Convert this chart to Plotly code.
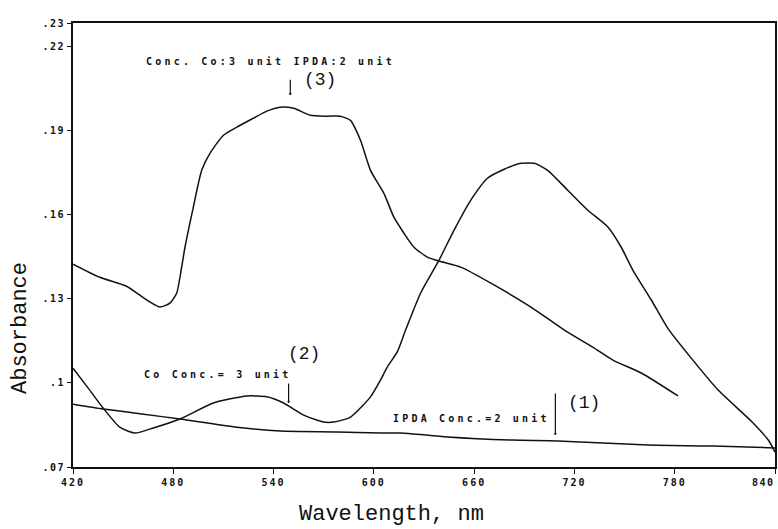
import plotly.graph_objects as go

# Absorption spectra: (1) IPDA alone, (2) Co alone, (3) Co + IPDA mixture
ipda_nm = [420, 438, 460, 484, 518, 544, 578, 604, 616, 644, 683, 710, 764, 803, 840]
ipda_abs = [0.0924, 0.0907, 0.0890, 0.0871, 0.0842, 0.0828, 0.0825, 0.0821, 0.0821,
            0.0807, 0.0796, 0.0793, 0.0778, 0.0775, 0.0768]

co_nm = [420, 430, 438, 448, 457, 468, 484, 504, 524, 536, 546, 558, 570, 576, 586,
         598, 604, 608, 614, 619, 628, 639, 648, 658, 668, 678, 688, 696, 704, 716,
         728, 740, 748, 755, 766, 776, 790, 806, 826, 836, 840]
co_abs = [0.1052, 0.0974, 0.0910, 0.0842, 0.0821, 0.0839, 0.0871, 0.0928, 0.0953, 0.0950,
          0.0928, 0.0885, 0.0860, 0.0860, 0.0878, 0.0950, 0.1010, 0.1056, 0.1110, 0.1188,
          0.1320, 0.1437, 0.1544, 0.1651, 0.1729, 0.1761, 0.1782, 0.1782, 0.1757, 0.1686,
          0.1615, 0.1555, 0.1483, 0.1401, 0.1295, 0.1193, 0.1087, 0.0974, 0.0862, 0.0796,
          0.0753]

mix_nm = [420, 436, 452, 460, 466, 472, 478, 482, 485, 487, 492, 497, 502, 510, 518,
          528, 536, 544, 552, 562, 572, 580, 586, 592, 598, 606, 612, 618, 624, 632,
          640, 652, 670, 694, 714, 731, 743, 760, 782]
mix_abs = [0.1423, 0.1376, 0.1344, 0.1312, 0.1288, 0.1270, 0.1284, 0.1319, 0.1412, 0.1483,
           0.1626, 0.1757, 0.1818, 0.1882, 0.1911, 0.1943, 0.1968, 0.1982, 0.1978, 0.1953,
           0.1950, 0.1950, 0.1935, 0.1864, 0.1757, 0.1675, 0.1590, 0.1533, 0.1483, 0.1448,
           0.1432, 0.1412, 0.1355, 0.1270, 0.1188, 0.1127, 0.1081, 0.1035, 0.0953]

x_ticks = [420, 480, 540, 600, 660, 720, 780, 840]
x_ticktext = ["420", "480", "540", "600", "660", "720", "780", "840"]
y_top = 0.2282
y_ticks = [0.07, 0.10, 0.13, 0.16, 0.19, 0.22, y_top]
y_ticktext = [".07", ".1", ".13", ".16", ".19", ".22", ".23"]

INK = "#111111"
SMALL = "DejaVu Sans Mono"
MONO = "Liberation Mono"


def spaced(s, px):
    return f'<span style="letter-spacing:{px}px">{s}</span>'


fig = go.Figure()
for xs, ys in [(ipda_nm, ipda_abs), (co_nm, co_abs), (mix_nm, mix_abs)]:
    fig.add_trace(go.Scatter(x=xs, y=ys, mode="lines",
                             line=dict(color=INK, width=1.5, shape="spline", smoothing=0.6),
                             showlegend=False, hoverinfo="skip"))

label_font = dict(family=SMALL, size=10, color=INK, weight="bold")
num_font = dict(family=MONO, size=18, color=INK)

annotations = [
    dict(x=538, y=0.2145, text=spaced("Conc. Co:3 unit IPDA:2 unit", 3.2), font=label_font),
    dict(x=568, y=0.2078, text="(3)", font=num_font),
    dict(x=507, y=0.1028, text=spaced("Co Conc.= 3 unit", 3.2), font=label_font),
    dict(x=558, y=0.1102, text="(2)", font=num_font),
    dict(x=658.6, y=0.0874, text=spaced("IPDA Conc.=2 unit", 3.2), font=label_font),
    dict(x=726, y=0.0928, text="(1)", font=num_font),
]
for a in annotations:
    a.update(xref="x", yref="y", showarrow=False, xanchor="center", yanchor="middle")

# Pointer marks from each caption down to its curve
pointers = [(550, 0.2025, 17), (549, 0.0928, 21), (708.6, 0.0814, 43)]
for px, py, length in pointers:
    annotations.append(dict(x=px, y=py, xref="x", yref="y", text="", showarrow=True,
                            ax=0, ay=-length, arrowhead=1, arrowsize=0.5, arrowwidth=1.2,
                            arrowcolor=INK))

# The last wavelength label sits against the right edge, so it is right-aligned there
annotations.append(dict(x=1.0, y=-0.034, xref="paper", yref="paper", text=spaced(x_ticktext[-1], 1.5),
                        showarrow=False, xanchor="right", yanchor="middle", xshift=2,
                        font=dict(family=SMALL, size=10, color=INK, weight="bold")))

annotations += [
    dict(x=0.454, y=-0.108, xref="paper", yref="paper", text="Wavelength, nm", showarrow=False,
         font=dict(family=MONO, size=22, color=INK), xanchor="center", yanchor="middle"),
    dict(x=-0.0755, y=0.313, xref="paper", yref="paper", text="Absorbance", showarrow=False,
         textangle=-90, font=dict(family=MONO, size=22, color=INK), xanchor="center", yanchor="middle"),
]

tick_labels = [spaced(t, 2) for t in x_ticktext[:-1]] + [""]

fig.update_layout(
    width=778, height=529,
    margin=dict(l=73, r=3, t=23, b=62, autoexpand=False),
    paper_bgcolor="white", plot_bgcolor="white",
    annotations=annotations,
    xaxis=dict(range=[420, 840], tickvals=x_ticks, ticktext=tick_labels,
               ticks="outside", ticklen=5, tickwidth=1.2, tickcolor=INK,
               automargin=False,
               showline=True, linewidth=2, linecolor=INK, mirror=True,
               showgrid=False, zeroline=False,
               tickfont=dict(family=SMALL, size=10, color=INK, weight="bold")),
    yaxis=dict(range=[0.07, y_top], tickvals=y_ticks, ticktext=[spaced(t, 1.5) for t in y_ticktext],
               ticks="outside", ticklen=4, tickwidth=1.2, tickcolor=INK, automargin=False,
               showline=True, linewidth=2, linecolor=INK, mirror=True,
               showgrid=False, zeroline=False,
               tickfont=dict(family=SMALL, size=10, color=INK, weight="bold")),
)

fig.write_html("out.html")
